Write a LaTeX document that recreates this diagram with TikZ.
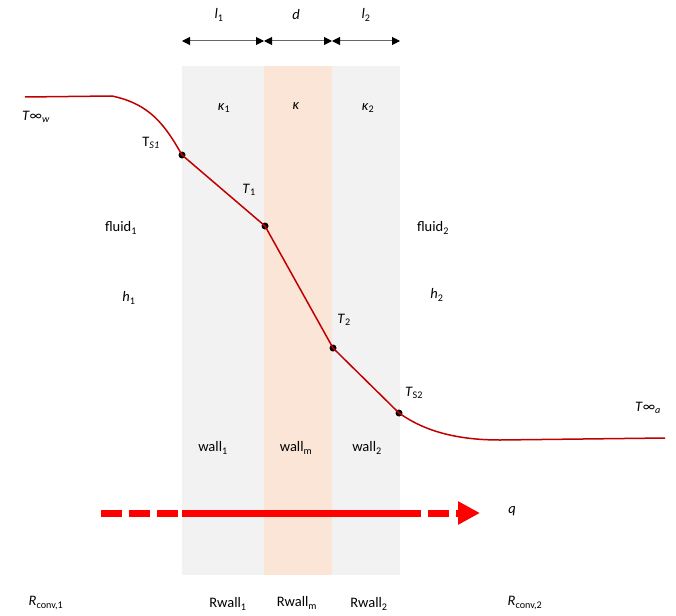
\documentclass[tikz,border=0pt]{standalone}
\usepackage{fontspec}
\setmainfont{Carlito}
\usetikzlibrary{arrows.meta}
\definecolor{wallgray}{HTML}{F2F2F2}
\definecolor{wallpeach}{HTML}{FBE5D6}
\definecolor{tempred}{HTML}{C00000}
\newcommand{\lo}[1]{\textsubscript{#1}}
\tikzset{
  lbl/.style={font=\fontsize{14.5}{17}\selectfont, inner sep=0pt},
  tdot/.style={circle, fill=black, inner sep=0pt, minimum size=7pt},
  dimline/.style={draw=black!60, line width=1pt, {Triangle[length=8pt,width=8pt,black]}-{Triangle[length=8pt,width=8pt,black]}},
  qline/.style={draw=red, line width=7pt},
}
\begin{document}
\begin{tikzpicture}[x=1pt, y=-1pt]
                \useasboundingbox (0,0) rectangle (676,615);
                % wall layers
                \fill[wallgray] (182,66) rectangle (264,575);
                \fill[wallpeach] (264,66) rectangle (332,575);
                \fill[wallgray] (332,66) rectangle (400,575);
                % thicknesses
                \coordinate (d0) at (182,41);
                \coordinate (d1) at (264,41);
                \coordinate (d2) at (332,41);
                \coordinate (d3) at (400,41);
                \draw[dimline] (d0) -- (d1);
                \draw[dimline] (d1) -- (d2);
                \draw[dimline] (d2) -- (d3);
                \node[lbl] (l1) at (219,15) {\textit{l}\lo{1}};
                \node[lbl] (dd) at (296,15) {\textit{d}};
                \node[lbl] (l2) at (366,15) {\textit{l}\lo{2}};
                \node[lbl] (k1) at (224,108) {\textit{κ}\lo{1}};
                \node[lbl] (k) at (296,106) {\textit{κ}};
                \node[lbl] (k2) at (368,108) {\textit{κ}\lo{2}};
                % temperature profile
                \coordinate (tw) at (25,97);
                \node[tdot] (ts1) at (182,155) {};
                \node[tdot] (t1) at (265,226) {};
                \node[tdot] (t2) at (333,348) {};
                \node[tdot] (ts2) at (399,413) {};
                \coordinate (ta) at (665,438);
                \draw[tempred, line width=1.5pt] (tw) -- (112,96) .. controls (150,104) and (165,125) .. (ts1.center)
                    -- (t1.center) -- (t2.center) -- (ts2.center)
                    .. controls (420,428) and (450,440) .. (500,440) -- (ta);
                \node[lbl] at (36,117) {\textit{T}∞\lo{\textit{w}}};
                \node[lbl] at (151,143) {T\lo{\textit{S1}}};
                \node[lbl] at (249,190) {\textit{T}\lo{1}};
                \node[lbl] at (344,320) {\textit{T}\lo{2}};
                \node[lbl] at (414,393) {\textit{T}\lo{S2}};
                \node[lbl] at (648,408) {\textit{T}∞\lo{\textit{a}}};
                % fluids
                \node[lbl] at (121,228) {fluid\lo{1}};
                \node[lbl] at (433,228) {fluid\lo{2}};
                \node[lbl] at (129,298) {\textit{h}\lo{1}};
                \node[lbl] at (437,295) {\textit{h}\lo{2}};
                \node[lbl] at (213,448) {wall\lo{1}};
                \node[lbl] at (296,448) {wall\lo{m}};
                \node[lbl] at (367,448) {wall\lo{2}};
                % heat flux
                \coordinate (q0) at (101,513);
                \coordinate (q1) at (182,513);
                \coordinate (q2) at (400,513);
                \coordinate (q3) at (480,513);
                \node[lbl] (q) at (512,511) {\textit{q}};
                \draw[qline, dash pattern=on 21pt off 7pt] (q0) -- (q1);
                \draw[qline] (q1) -- (q2);
                \draw[qline, dash pattern=on 21pt off 7pt, -{Triangle[length=22pt,width=22pt]}] (q2) -- (q3);
                % resistances
                \node[lbl] at (46,603) {\textit{R}\lo{conv,1}};
                \node[lbl] at (228,604) {Rwall\lo{1}};
                \node[lbl] at (297,603) {Rwall\lo{m}};
                \node[lbl] at (369,604) {Rwall\lo{2}};
                \node[lbl] at (525,603) {\textit{R}\lo{conv,2}};
\end{tikzpicture}
\end{document}
